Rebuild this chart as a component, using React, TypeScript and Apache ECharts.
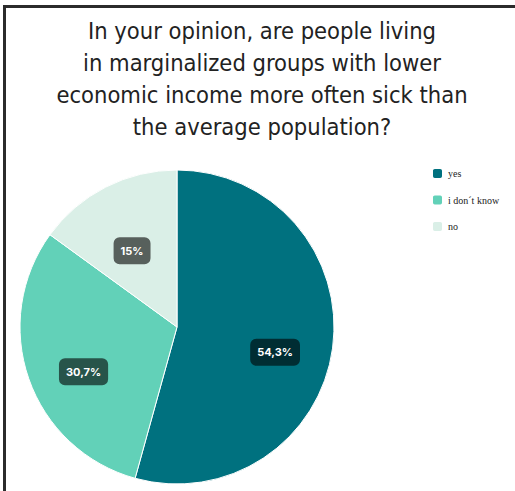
import React, { useEffect, useRef } from "react";
import * as echarts from "echarts";

const TITLE_LINES = [
  "In your opinion, are people living",
  "in marginalized groups with lower",
  "economic income more often sick than",
  "the average population?",
];
const CATEGORIES = ["yes", "i don´t know", "no"];
const VALUES = [54.3, 30.7, 15];
const COLORS = ["#00717f", "#62d1b8", "#daefe7"];

export default function App() {
  const ref = useRef<HTMLDivElement>(null);
  useEffect(() => {
    if (!ref.current) return;
    const chart = echarts.init(ref.current, undefined, { renderer: "svg" });
    const data = CATEGORIES.map((name, i) => ({
      name,
      value: VALUES[i],
      itemStyle: { color: COLORS[i] },
    }));
    const fmt = (p: any) => String(p.value).replace(".", ",") + "%";
    chart.setOption({
      animation: false,
      backgroundColor: "#ffffff",
      title: {
        text: TITLE_LINES.join("\n"),
        left: 257,
        textAlign: "center",
        top: 10,
        textStyle: {
          fontFamily: "DejaVu Sans Condensed",
          fontSize: 23.5,
          fontWeight: "normal",
          lineHeight: 32,
          color: "#222222",
        },
      },
      legend: {
        orient: "vertical",
        left: 426,
        top: 162,
        itemWidth: 11,
        itemHeight: 11,
        itemGap: 13.5,
        icon: "roundRect",
        data: CATEGORIES,
        textStyle: {
          fontFamily: "Liberation Serif",
          fontSize: 10,
          color: "#222222",
        },
      },
      graphic: [
        { type: "rect", shape: { x: 3, y: 5, width: 3, height: 486 }, style: { fill: "#2b2b2b" } },
        { type: "rect", shape: { x: 3, y: 5, width: 512, height: 3 }, style: { fill: "#2b2b2b" } },
      ],
      series: [
        {
          type: "pie",
          center: [177, 327],
          radius: [0, 157],
          startAngle: 90,
          clockwise: true,
          data,
          label: { show: false },
          labelLine: { show: false },
          itemStyle: { borderColor: "#ffffff", borderWidth: 1 },
          emphasis: { disabled: true },
        },
        {
          type: "pie",
          center: [177, 327],
          radius: [0, 192],
          startAngle: 90,
          clockwise: true,
          silent: true,
          data: CATEGORIES.map((name, i) => ({
            name,
            value: VALUES[i],
            itemStyle: { color: "rgba(0,0,0,0)" },
          })),
          itemStyle: { borderWidth: 0 },
          labelLine: { show: false },
          label: {
            show: true,
            position: "inside",
            formatter: fmt,
            offset: [0, 12],
            color: "#ffffff",
            fontFamily: "Inter",
            fontWeight: "bold",
            fontSize: 11,
            backgroundColor: "rgba(0,0,0,0.6)",
            borderRadius: 6,
            padding: [8, 7],
          },
          emphasis: { disabled: true },
        },
      ],
    });
    return () => chart.dispose();
  }, []);
  return (
    <div
      ref={ref}
      style={{ position: "fixed", left: 0, top: 0, width: 515, height: 491 }}
    />
  );
}
